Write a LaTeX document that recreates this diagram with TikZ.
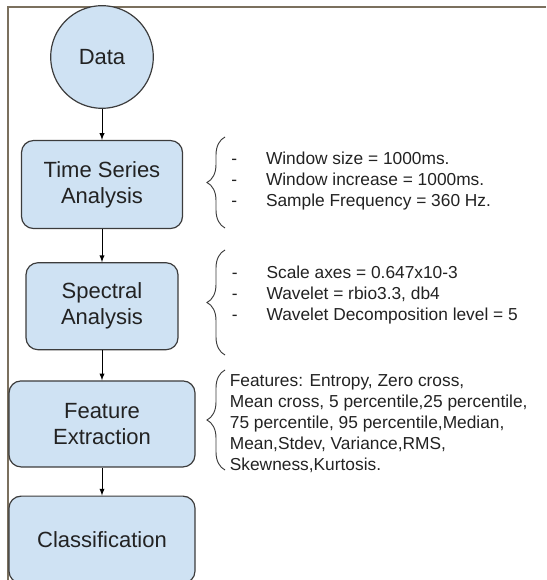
\documentclass[tikz,border=0pt]{standalone}
\usepackage{fontspec}
\setmainfont{Liberation Sans}
\usetikzlibrary{positioning,decorations.pathreplacing}
\definecolor{StageFill}{HTML}{CFE2F3}
\definecolor{StageLine}{HTML}{3C3C3C}
\definecolor{FrameLine}{HTML}{7B705E}
\definecolor{NoteText}{HTML}{222222}
\newcommand{\dashitem}[1]{\makebox[26pt][l]{-}#1}

\begin{document}
\begin{tikzpicture}[x=0.75pt,y=-0.75pt,
    stage/.style={draw=StageLine,line width=0.9pt,rounded corners=9pt,
      fill=StageFill,align=center,inner sep=0pt,text=NoteText,
      font=\fontsize{16.5pt}{19.5pt}\selectfont},
    source/.style={draw=StageLine,line width=0.9pt,circle,fill=StageFill,
      minimum size=77pt,inner sep=0pt,text=NoteText,
      font=\fontsize{16.5pt}{19.5pt}\selectfont},
    note/.style={align=left,inner sep=0pt,text=NoteText,
      font=\fontsize{13pt}{15.75pt}\selectfont},
    arrow/.style={-latex,line width=0.75pt},
    curly/.style={decorate,decoration={brace,amplitude=13.5pt},
      draw=StageLine,line width=0.7pt}
  ]
    \useasboundingbox (0,0) rectangle (546,580);
    \draw[FrameLine,line width=1.5pt] (8,580) -- (8,7) -- (546,7);

    \node[source] (data) at (102,57) {Data};
    \node[stage,minimum width=120.75pt,minimum height=66pt,below=23.25pt of data] (ts) {Time Series\\Analysis};
    \node[stage,minimum width=114pt,minimum height=65.25pt,below=24.75pt of ts] (sa) {Spectral\\Analysis};
    \node[stage,minimum width=139.5pt,minimum height=64.5pt,below=22.5pt of sa] (fe) {Feature\\Extraction};
    \node[stage,minimum width=139.5pt,minimum height=65.25pt,below=21pt of fe] (cl) {Classification};

    \draw[arrow] (data) -- (ts);
    \draw[arrow] (ts) -- (sa);
    \draw[arrow] (sa) -- (fe);
    \draw[arrow] (fe) -- (cl);

    % notes on the right
    \node[note,right=36pt of ts,yshift=3pt] (tsnote) {\dashitem{Window size = 1000ms.}\\
      \dashitem{Window increase = 1000ms.}\\
      \dashitem{Sample Frequency = 360 Hz.}};
    \node[note,right=39.75pt of sa,yshift=8.25pt] (sanote) {\dashitem{Scale axes = 0.647x10-3}\\
      \dashitem{Wavelet = rbio3.3, db4}\\
      \dashitem{Wavelet Decomposition level = 5}};
    \node[note,right=25.5pt of fe] (fenote) {Features: Entropy, Zero cross,\\
      Mean cross, 5 percentile,25 percentile,\\
      75 percentile, 95 percentile,Median,\\
      Mean,Stdev, Variance,RMS,\\
      Skewness,Kurtosis.};

    \draw[curly] (225,228) -- (225,137);
    \draw[curly] (225,355) -- (225,250);
    \draw[curly] (225,470) -- (225,370);
  \end{tikzpicture}
\end{document}
